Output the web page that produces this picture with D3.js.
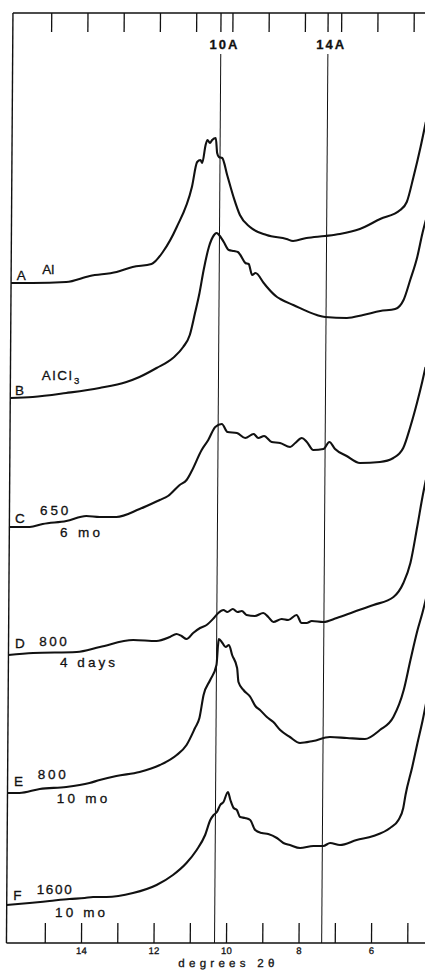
<!DOCTYPE html>
<html><head><meta charset="utf-8">
<script src="https://cdn.jsdelivr.net/npm/d3@7/dist/d3.min.js"></script>
<style>
html,body{margin:0;padding:0;background:#fff;}
svg{display:block;}
text{font-family:"Liberation Sans",Arial,sans-serif;fill:#111;stroke:#111;stroke-width:0.3px;}
</style></head><body>
<svg id="chart" width="425" height="971"></svg>
<script>
// ---- data: 2θ (degrees) and stacked intensity (arbitrary units) ----
const traceIds = ["A", "B", "C", "D", "E", "F"];

const twoThetaA = [16.07,15.48,14.55,13.90,13.16,12.72,12.20,11.89,11.51,11.10,10.96,10.87,10.82,10.73,10.68,10.61,10.55,10.45,10.41,10.36,10.27,10.13,9.95,9.77,9.49,9.03,8.48,8.30,7.93,7.42,7.01,6.46,5.90,5.35,5.17,4.99,4.80,4.66];
const intensityA = [660,660,661,667,671,676,679,691,716,756,781,783,780,798,803,800,803,805,790,786,785,768,746,728,716,708,704,702,705,707,709,714,724,733,741,766,796,821];

const twoThetaB = [16.07,15.45,14.53,13.61,12.87,12.51,12.04,11.59,11.31,11.13,10.99,10.87,10.76,10.62,10.48,10.41,10.30,10.21,10.07,9.93,9.82,9.75,9.61,9.52,9.42,9.33,9.10,9.01,8.73,8.64,8.28,7.63,7.40,6.80,6.35,5.88,5.47,5.24,5.06,4.87,4.73,4.64];
const intensityB = [545,546,550,555,561,566,575,585,596,608,630,650,673,696,708,710,706,701,693,692,691,688,680,679,668,670,660,656,646,644,638,628,626,625,628,632,634,643,663,686,710,723];

const twoThetaC = [16.07,15.51,15.15,14.50,13.95,13.58,13.12,12.48,11.93,11.70,11.38,11.19,11.05,10.78,10.60,10.41,10.23,10.07,9.81,9.58,9.35,9.22,9.06,8.85,8.62,8.34,8.20,8.02,7.88,7.70,7.42,7.26,7.10,6.78,6.41,5.86,5.49,5.22,5.03,4.85,4.71,4.62];
const intensityC = [416,416,419,422,427,426,426,434,443,447,458,463,472,493,503,516,519,511,510,505,509,505,507,501,500,496,500,505,501,493,494,501,494,487,480,481,485,495,516,540,561,576];

const twoThetaD = [16.07,15.39,14.19,13.55,12.63,11.99,11.62,11.44,11.30,11.16,10.98,10.79,10.61,10.41,10.29,10.15,10.04,9.89,9.76,9.64,9.51,9.28,9.05,8.91,8.77,8.54,8.36,8.13,7.99,7.85,7.71,7.39,7.02,6.56,6.01,5.46,5.19,5.00,4.82,4.68,4.59];
const intensityD = [288,290,291,296,303,302,306,309,307,304,310,315,318,325,330,333,331,334,331,332,328,327,330,326,321,324,323,328,320,320,322,321,325,331,338,346,360,380,416,446,463];

const twoThetaE = [16.07,15.74,15.18,14.45,13.81,13.53,13.07,12.43,11.87,11.41,11.14,10.91,10.79,10.68,10.50,10.33,10.29,10.27,10.17,10.08,9.99,9.90,9.76,9.72,9.58,9.39,9.25,9.12,8.93,8.75,8.56,8.29,8.01,7.65,7.19,6.72,6.22,5.81,5.44,5.16,4.98,4.79,4.66,4.56];
const intensityE = [150,150,154,156,160,163,167,171,178,188,198,215,225,248,263,278,298,304,300,296,298,288,275,261,253,246,237,233,226,221,213,206,200,202,206,205,204,213,226,253,283,313,330,345];

const twoThetaF = [16.07,15.44,14.89,14.34,13.92,13.69,13.32,12.59,11.94,11.49,11.12,10.84,10.61,10.47,10.38,10.29,10.20,10.11,9.99,9.92,9.83,9.74,9.65,9.51,9.37,9.23,9.05,8.87,8.63,8.45,8.27,7.99,7.62,7.35,7.16,6.89,6.43,5.97,5.51,5.28,5.15,5.09,4.91,4.77,4.63,4.54];
const intensityF = [38,40,42,44,45,46,46,50,58,68,80,93,108,123,128,131,138,141,151,143,135,133,126,125,123,113,110,109,105,100,98,95,97,97,100,98,103,107,115,123,135,148,176,200,223,240];

const tickDegrees = [15,14,13,12,11,10,9,8,7,6,5];
const tickLabelDegrees = [14,12,10,8,6];
const refPositions = [10.33, 7.375];
const refLabels = ["10A", "14A"];
const sampleLabels = ["Al", "AlCl", "650", "800", "800", "1600"];
const ageLabels = ["", "", "6 mo", "4 days", "10 mo", "10 mo"];

const series = [
  {id:"A", t:twoThetaA, v:intensityA},
  {id:"B", t:twoThetaB, v:intensityB},
  {id:"C", t:twoThetaC, v:intensityC},
  {id:"D", t:twoThetaD, v:intensityD},
  {id:"E", t:twoThetaE, v:intensityE},
  {id:"F", t:twoThetaF, v:intensityF}
];

// ---- layout ----
const W = 425, H = 971;
const ink = "#111";
const x = d3.scaleLinear().domain([16.07, 4.6]).range([9.7, 425.5]);
const y = d3.scaleLinear().domain([0, 930]).range([943, 13]);

const svg = d3.select("#chart");
svg.append("rect").attr("width", W).attr("height", H).attr("fill", "#fff");

// the scanned original is slightly sheared
const plot = svg.append("g").attr("transform", "translate(0,478) skewX(-0.401) translate(0,-478)");

const yTop = y(930), yBot = y(0);
const xLeft = x(16.07);

// frame
plot.append("line").attr("x1", xLeft).attr("x2", xLeft).attr("y1", yTop).attr("y2", yBot)
  .attr("stroke", ink).attr("stroke-width", 1.4);
plot.append("line").attr("x1", xLeft).attr("x2", W + 10).attr("y1", yTop).attr("y2", yTop)
  .attr("stroke", ink).attr("stroke-width", 1.4);
plot.append("line").attr("x1", xLeft).attr("x2", W + 10).attr("y1", yBot).attr("y2", yBot)
  .attr("stroke", ink).attr("stroke-width", 1.4);

// top ticks (degree ticks + reference ticks)
plot.selectAll("line.ttick").data(tickDegrees.concat(refPositions)).enter().append("line")
  .attr("class", "ttick")
  .attr("x1", d => x(d)).attr("x2", d => x(d))
  .attr("y1", yTop).attr("y2", yTop + 19)
  .attr("stroke", ink).attr("stroke-width", 1.3);

// bottom ticks
plot.selectAll("line.btick").data(tickDegrees).enter().append("line")
  .attr("class", "btick")
  .attr("x1", d => x(d)).attr("x2", d => x(d))
  .attr("y1", yBot - 20).attr("y2", yBot)
  .attr("stroke", ink).attr("stroke-width", 1.3);

// tick labels
plot.selectAll("text.tlab").data(tickLabelDegrees).enter().append("text")
  .attr("class", "tlab")
  .attr("x", d => x(d)).attr("y", yBot + 11.5)
  .attr("text-anchor", "middle").attr("font-size", 9.5)
  .text(d => d);

// axis title
plot.append("text")
  .attr("x", x(10)).attr("y", yBot + 24.5)
  .attr("text-anchor", "middle").attr("font-size", 11.5)
  .attr("textLength", 96).attr("lengthAdjust", "spacing")
  .text("degrees 2θ");

// reference lines
plot.selectAll("line.ref").data(refPositions).enter().append("line")
  .attr("class", "ref")
  .attr("x1", d => x(d)).attr("x2", d => x(d))
  .attr("y1", yTop + 41).attr("y2", yBot)
  .attr("stroke", ink).attr("stroke-width", 1);

// traces
const line = d3.line()
  .x(d => x(d[0])).y(d => y(d[1]))
  .curve(d3.curveMonotoneX);

plot.selectAll("path.trace").data(series).enter().append("path")
  .attr("class", "trace")
  .attr("d", s => line(s.t.map((t, i) => [t, s.v[i]])))
  .attr("fill", "none").attr("stroke", ink)
  .attr("stroke-width", 2.1).attr("stroke-linejoin", "round");

// ---- annotations (unsheared, image coordinates) ----
const ann = svg.append("g");
const refLabelPos = [[223.5, 49.3], [330.2, 49.3]];
refLabels.forEach((t, i) => {
  ann.append("text").attr("x", refLabelPos[i][0]).attr("y", refLabelPos[i][1])
    .attr("text-anchor", "middle").attr("font-size", 13).attr("font-weight", "bold")
    .attr("textLength", 28).attr("lengthAdjust", "spacing").text(t);
});

const letterPos = [[16.7, 280], [15, 395], [15, 522.7], [15, 648.3], [14, 786], [13.3, 900]];
const samplePos = [[42.3, 274, 13], [41.7, 380, 30], [40, 515, 28.3], [39.3, 646, 27.4], [37.7, 779.3, 28], [36.7, 894, 35]];
const agePos = [null, null, [60, 537.3, 40], [60, 667, 55], [56.7, 803.3, 50.6], [55, 916.7, 50]];

traceIds.forEach((id, i) => {
  ann.append("text").attr("x", letterPos[i][0]).attr("y", letterPos[i][1])
    .attr("font-size", 13.5).text(id);
  const sp = samplePos[i];
  const t = ann.append("text").attr("x", sp[0]).attr("y", sp[1]).attr("font-size", 13.5);
  if (id === "B") {
    t.append("tspan").attr("textLength", sp[2]).attr("lengthAdjust", "spacing").text(sampleLabels[i]);
    t.append("tspan").attr("dy", 3.5).attr("dx", 0.5).attr("font-size", 9.5).text("3");
  } else if (id === "A") {
    t.text(sampleLabels[i]);
  } else {
    t.attr("textLength", sp[2]).attr("lengthAdjust", "spacing").text(sampleLabels[i]);
  }
  if (agePos[i]) {
    ann.append("text").attr("x", agePos[i][0]).attr("y", agePos[i][1])
      .attr("font-size", 13.5)
      .attr("textLength", agePos[i][2]).attr("lengthAdjust", "spacing")
      .text(ageLabels[i]);
  }
});
</script>
</body></html>
